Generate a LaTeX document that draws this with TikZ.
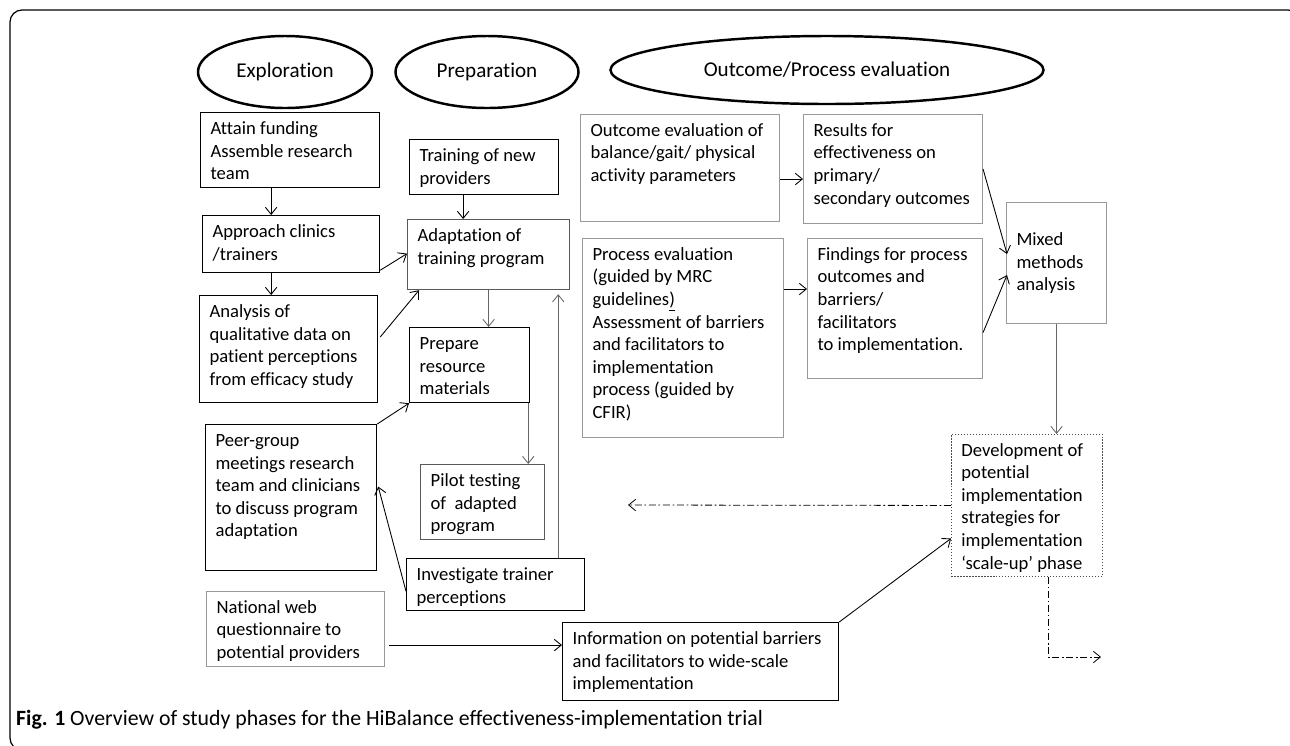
\documentclass[tikz,border=0pt]{standalone}
\usepackage{fontspec}
\setmainfont{Carlito}[Ligatures=NoCommon]
\usetikzlibrary{shapes.geometric,arrows.meta,calc}
\newlength\pxl
\setlength\pxl{0.02cm}
\newcommand{\bxt}[3]{\parbox[t][\dimexpr#2\pxl-12\pxl\relax][t]{\dimexpr#1\pxl-20\pxl\relax}{\begin{tabular}[t]{@{}l@{}}#3\end{tabular}}}
\tikzset{
  phase/.style={draw, ellipse, line width=1.4pt, inner sep=0pt, font=\fontsize{12}{14}\selectfont},
  box/.style={draw, rectangle, anchor=north west, inner xsep=10\pxl, inner ysep=6\pxl, line width=0.7pt, font=\fontsize{10.6}{12.85}\selectfont},
  gbox/.style={box, draw=black!40, line width=0.6pt},
  dbox/.style={box, draw=black!65},
  arr/.style={-{Straight Barb[length=4pt,width=6.5pt]}, line width=0.5pt},
  garr/.style={arr, draw=black!60},
  dd/.style={arr, dash pattern=on 4pt off 1.5pt on 1pt off 1.5pt, line width=0.45pt},
}
\begin{document}
\begin{tikzpicture}[x=0.02cm, y=-0.02cm]
\useasboundingbox (0,0) rectangle (1290,745);
\draw[line width=0.7pt, rounded corners=12\pxl] (10,10) rectangle (1300,750);

\node[phase, minimum width=174\pxl, minimum height=72\pxl] (expl) at (285,72) {Exploration};
\node[phase, minimum width=183\pxl, minimum height=72\pxl] (prep) at (487,72) {Preparation};
\node[phase, minimum width=433\pxl, minimum height=68\pxl] (eval) at (827,70) {Outcome/Process evaluation};

\node[box] (att) at (200,112) {\bxt{179}{75}{Attain funding\\Assemble research\\team}};
\node[box] (app) at (202,215) {\bxt{177}{57}{Approach clinics\\/trainers}};
\node[box] (ana) at (199,295) {\bxt{178}{107}{Analysis of\\qualitative data on\\patient perceptions\\from efficacy study}};
\node[box] (trn) at (409,139) {\bxt{149}{55}{Training of new\\providers}};
\node[dbox] (adp) at (407,219) {\bxt{162}{70}{Adaptation of\\training program}};
\node[box] (prp) at (409,327) {\bxt{120}{75}{Prepare\\resource\\materials}};
\node[box] (peer) at (205,424) {\bxt{171}{146}{Peer-group\\meetings research\\team and clinicians\\to discuss program\\adaptation}};
\node[dbox] (pil) at (420,464) {\bxt{124}{75}{Pilot testing\\of~ adapted\\program}};
\node[box] (inv) at (406,558) {\bxt{178}{52}{Investigate trainer\\perceptions}};
\node[gbox] (nat) at (206,591) {\bxt{178}{75}{National web\\questionnaire to\\potential providers}};
\node[box] (inf) at (562,622) {\bxt{276}{78}{Information on potential barriers\\and facilitators to wide-scale\\implementation}};
\node[gbox] (oev) at (580,114) {\bxt{199}{107}{Outcome evaluation of\\balance/gait/ physical\\activity parameters}};
\node[gbox] (res) at (803,114) {\bxt{179}{109}{Results for\\effectiveness on\\primary/\\secondary outcomes}};
\node[gbox] (pev) at (582,238) {\bxt{201}{199}{Process evaluation\\(guided by MRC\\guidelines\underline{)}\\Assessment of barriers\\and facilitators to\\implementation\\process (guided by\\CFIR)}};
\node[gbox] (fnd) at (807,238) {\bxt{175}{140}{Findings for process\\outcomes and\\barriers/\\facilitators\\to implementation.}};
\node[gbox] (mix) at (1006,202) {\parbox[c][109\pxl][c]{80\pxl}{Mixed\\methods\\analysis}};
\node[box, draw=black!70, densely dotted, line width=0.5pt] (dev) at (951,434) {\bxt{151}{142}{Development of\\potential\\implementation\\strategies for\\implementation\\‘scale-up’ phase}};

\node[anchor=base west, font=\fontsize{12.4}{14}\selectfont] (cap) at (10,725) {\textbf{Fig. 1} Overview of study phases for the HiBalance effectiveness-implementation trial};

% exploration column
\coordinate (c1) at ($(att.south)+(-19,0)$);
\draw[arr] (c1) -- (c1 |- app.north);
\coordinate (c2) at ($(app.south)+(-20,0)$);
\draw[arr] (c2) -- (c2 |- ana.north);
\draw[arr] ($(app.south east)+(0,-3)$) -- ($(adp.west)+(0,-1)$);
\draw[arr] ($(ana.north east)+(2,42)$) -- ($(adp.south west)+(12,0)$);
\draw[arr] (peer.north east) -- (prp.south west);
\draw[arr] ($(inv.south west)+(0,-20)$) -- ($(peer.east)+(1,-11)$);

% preparation column
\coordinate (c3) at ($(trn.south)+(-21,0)$);
\draw[arr] (c3) -- (c3 |- adp.north);
\draw[garr] (adp.south) -- (adp.south |- prp.north);
\coordinate (c4) at ($(prp.south east)+(-2,0)$);
\draw[garr] (c4) -- (c4 |- pil.north);
\draw[garr] ($(inv.north east)+(-27,0)$) -- ($(adp.south east)+(-12,4)$);

% evaluation
\coordinate (c5) at ($(oev.east)+(0,11)$);
\draw[arr] (c5) -- (c5 -| res.west);
\coordinate (c6) at ($(pev.north east)+(0,51)$);
\draw[arr] (c6) -- (c6 -| fnd.west);
\draw[arr] (res.east) -- ($(mix.west)+(1,-9)$);
\draw[arr] ($(fnd.east)+(0,24)$) -- ($(mix.west)+(1,12)$);
\draw[garr] (mix.south) -- (mix.south |- dev.north);

% scale-up
\coordinate (c7) at ($(nat.south east)+(4,-22)$);
\draw[arr] (c7) -- (c7 -| inf.west);
\draw[arr] (inf.north east) -- ($(dev.west)+(0,33)$);
\coordinate (back) at (628,505);
\draw[dd] (dev.west) -- (back);
\coordinate (fwd) at (1101,657);
\draw[dd] ($(dev.south)+(21,0)$) |- (fwd);
\end{tikzpicture}
\end{document}
